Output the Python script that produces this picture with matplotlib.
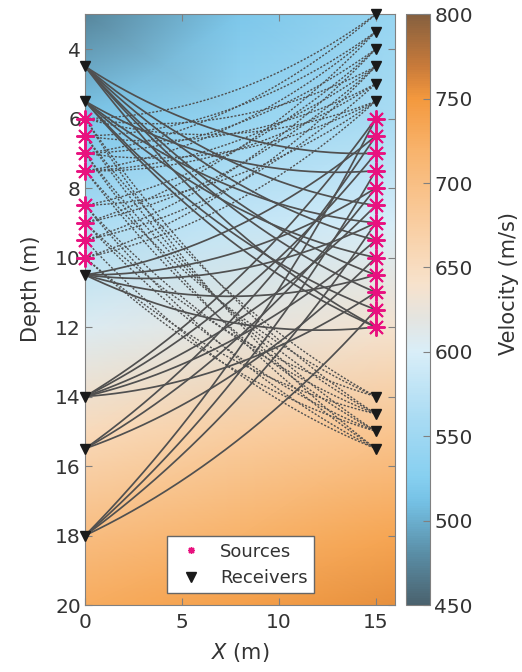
import numpy as np
import matplotlib.pyplot as plt
from matplotlib.colors import LinearSegmentedColormap
from matplotlib.lines import Line2D

plt.rcParams['font.family'] = ['DejaVu Sans']

# velocity model nodes (m, m/s)
x_nodes = [0, 8, 16]
z_nodes = [3, 6, 9, 12, 15, 18, 20]
vel_nodes = [
    [475, 518, 542],
    [518, 542, 562],
    [562, 582, 598],
    [605, 622, 636],
    [655, 675, 690],
    [702, 720, 735],
    [728, 742, 755],
]

# survey geometry, depths in m
left_x = 0
right_x = 15
left_sources = [6, 6.5, 7, 7.5, 8.5, 9, 9.5, 10]
right_sources = [6, 6.5, 7, 7.5, 8, 8.5, 9, 9.5, 10, 10.5, 11, 11.5, 12]
left_receivers = [4.5, 5.5, 10.5, 14, 15.5, 18]
right_receivers = [3, 3.5, 4, 4.5, 5, 5.5, 14, 14.5, 15, 15.5]

# traced rays: (left source, right receiver) dotted
rays_left_src = [
    (6, 3), (6, 4.5), (6, 5.5), (6, 14.5), (6, 15.5),
    (6.5, 3.5), (6.5, 5), (6.5, 14), (6.5, 15),
    (7, 3), (7, 4), (7, 5.5), (7, 14.5), (7, 15.5),
    (7.5, 3.5), (7.5, 4.5), (7.5, 5), (7.5, 14), (7.5, 15),
    (8.5, 4), (8.5, 5.5), (8.5, 14.5), (8.5, 15.5),
    (9, 3.5), (9, 4.5), (9, 14), (9, 15),
    (9.5, 4), (9.5, 5), (9.5, 15.5),
    (10, 4.5), (10, 5.5), (10, 14.5), (10, 15),
]
# (left receiver, right source) solid
rays_right_src = [
    (4.5, 7), (4.5, 8.5), (4.5, 9.5), (4.5, 10.5), (4.5, 11), (4.5, 12),
    (5.5, 7.5), (5.5, 9), (5.5, 10), (5.5, 11.5), (5.5, 12),
    (10.5, 6.5), (10.5, 8), (10.5, 9), (10.5, 10.5), (10.5, 12),
    (14, 6), (14, 7), (14, 8.5), (14, 9.5), (14, 11),
    (15.5, 6.5), (15.5, 8), (15.5, 10),
    (18, 6), (18, 7.5), (18, 9), (18, 11.5),
]

cmap = LinearSegmentedColormap.from_list('vel', [
    (0.000, '#4a626e'),
    (30 / 350, '#5a8ea6'),
    (60 / 350, '#74c0e4'),
    (75 / 350, '#86cff0'),
    (110 / 350, '#a9dbf3'),
    (150 / 350, '#d9eef8'),
    (170 / 350, '#e4e4e0'),
    (190 / 350, '#f7e2cc'),
    (225 / 350, '#f9cea2'),
    (270 / 350, '#f8b36c'),
    (300 / 350, '#f4993e'),
    (320 / 350, '#c87a3a'),
    (1.000, '#86603f'),
])


def ray_path(z1, z2, n=200):
    # circular ray in a linear v(z) medium
    v_top = np.mean(vel_nodes[0])
    grad = (np.mean(vel_nodes[-1]) - v_top) / (z_nodes[-1] - z_nodes[0])
    zc = z_nodes[0] - v_top / grad
    a, b = z1 - zc, z2 - zc
    L = right_x - left_x
    xc = (L ** 2 + b ** 2 - a ** 2) / (2 * L)
    r = np.hypot(xc, a)
    xs = np.linspace(0, L, n)
    zs = zc + np.sqrt(r ** 2 - (xs - xc) ** 2)
    return xs + left_x, zs


fig = plt.figure(figsize=(5.22, 6.72), dpi=100)
ax = fig.add_axes([0.163, 0.0997, 0.594, 0.879])
cax = fig.add_axes([0.778, 0.0997, 0.046, 0.879])

mesh = ax.pcolormesh(x_nodes, z_nodes, np.array(vel_nodes), shading='gouraud',
                     cmap=cmap, vmin=450, vmax=800, zorder=0)

for zs_, zr_ in rays_left_src:
    x, z = ray_path(zs_, zr_)
    ax.plot(x, z, color='#505050', lw=1.0, ls=(0, (1.5, 1.2)), zorder=2)
for zr_, zs_ in rays_right_src:
    x, z = ray_path(zr_, zs_)
    ax.plot(x, z, color='#505050', lw=1.25, zorder=2)

src_style = dict(ls='none', marker=(8, 2, 0), color='#e8117f', ms=13, mew=1.4,
                 clip_on=False, zorder=4)
rec_style = dict(ls='none', marker='v', color='#1a1a1a', ms=6.5, clip_on=False,
                 zorder=5)
ax.plot([left_x] * len(left_sources), left_sources, **src_style)
ax.plot([right_x] * len(right_sources), right_sources, **src_style)
ax.plot([left_x] * len(left_receivers), left_receivers, **rec_style)
ax.plot([right_x] * len(right_receivers), right_receivers, **rec_style)

ax.set_xlim(0, 16)
ax.set_ylim(20, 3)
ax.set_xticks([0, 5, 10, 15])
ax.set_yticks(np.arange(4, 21, 2))
ax.tick_params(direction='in', length=5, color='#808080', labelsize=14.5,
               labelcolor='#333333', top=True, right=True, pad=3)
ax.tick_params(axis='x', pad=6)
for s in ax.spines.values():
    s.set_color('#808080')
ax.set_xlabel('$X$ (m)', fontsize=15, color='#333333', labelpad=6)
ax.set_ylabel('Depth (m)', fontsize=15, color='#333333')
ax.yaxis.set_label_coords(-0.142, 0.535)

handles = [
    Line2D([], [], ls='none', marker=(8, 2, 0), color='#e8117f', ms=5, mew=1),
    Line2D([], [], ls='none', marker='v', color='#1a1a1a', ms=6.5),
]
leg = ax.legend(handles, ['Sources', 'Receivers'], loc='lower center',
                bbox_to_anchor=(0.5, 0.02), borderaxespad=0, fontsize=13,
                frameon=True, fancybox=False, edgecolor='#666666',
                framealpha=1, handletextpad=0.6, borderpad=0.35,
                labelspacing=0.45)
leg.get_frame().set_linewidth(1.0)
for t in leg.get_texts():
    t.set_color('#333333')

cb = fig.colorbar(mesh, cax=cax, ticks=np.arange(450, 801, 50))
cb.outline.set_edgecolor('#808080')
cb.ax.tick_params(direction='in', length=5, color='#808080', labelsize=14.5,
                  labelcolor='#333333', pad=3)
cb.set_label('Velocity (m/s)', fontsize=15, color='#333333')
cb.ax.yaxis.set_label_coords(3.85, 0.545)

fig.savefig('out.png', dpi=100)
